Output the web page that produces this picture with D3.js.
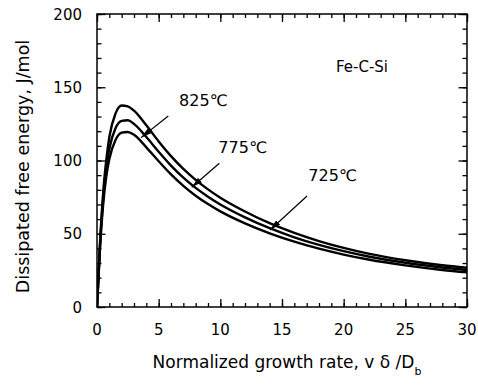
<!DOCTYPE html>
<html>
<head>
<meta charset="utf-8">
<script src="https://cdn.jsdelivr.net/npm/d3@7"></script>
<style>
  html, body { margin: 0; padding: 0; background: #fff; }
  svg { display: block; }
  text { font-family: "DejaVu Sans", sans-serif; fill: #000; }
</style>
</head>
<body>
<svg id="chart" width="478" height="387"></svg>
<script>
// Normalized growth rate (x) samples
const rates = [0, 0.25, 0.5, 0.75, 1, 1.5, 2, 2.5, 3, 4, 5, 6, 7, 8, 9, 10, 12, 14, 16, 18, 20, 22, 25, 28, 30];

// Dissipated free energy (J/mol) for each temperature
const energy825 = [0, 45, 78, 100, 116, 132, 137.5, 137, 134, 124, 113, 103, 94.3, 86.8, 80.3, 74.6, 65.2, 57.2, 50.6, 45, 40.3, 36.4, 31.9, 28.5, 26.8];
const energy775 = [0, 43, 74, 95, 108, 122, 127, 127.5, 125, 116, 106, 96.5, 88.3, 81.3, 75.3, 70, 61.2, 53.8, 47.6, 42.4, 38.1, 34.5, 30.2, 27, 25.3];
const energy725 = [0, 41, 70, 89, 101, 114, 119, 119.5, 117.5, 109, 99.5, 90.5, 82.7, 76, 70.3, 65.3, 57.1, 50.3, 44.6, 39.8, 35.8, 32.4, 28.4, 25.3, 23.7];

const seriesNames = ["825℃", "775℃", "725℃"];

// Label anchors and arrows (data units): [labelX, labelY, fromX, fromY, toX, toY]
const callouts = [
  [6.65, 137.4, 5.78, 130.4, 3.57, 115.6],
  [9.84, 104.9, 9.92, 98.1, 7.68, 81.7],
  [17.13, 86.2, 17.03, 75.8, 14.03, 52.6]
];

const xTicks = [0, 5, 10, 15, 20, 25, 30];
const yTicks = [0, 50, 100, 150, 200];
const xMinor = d3.range(0, 31, 1);
const yMinor = d3.range(0, 201, 10);
const systemLabel = "Fe-C-Si";

const margin = { left: 97, top: 14, right: 11, bottom: 80 };
const width = 478, height = 387;
const svg = d3.select("#chart");

const x = d3.scaleLinear().domain([0, 30]).range([margin.left, width - margin.right]);
const y = d3.scaleLinear().domain([0, 200]).range([height - margin.bottom, margin.top]);

// inward ticks (minor and major) on all four sides
function ticks(axisFn, scale, minor, major, sizeMinor, sizeMajor, transform) {
  [[minor, sizeMinor], [major, sizeMajor]].forEach(([vals, size]) => {
    const g = svg.append("g").attr("transform", transform)
      .call(axisFn(scale).tickValues(vals).tickSize(-size).tickFormat(""));
    g.select(".domain").remove();
    g.selectAll("line").attr("stroke", "#000").attr("stroke-width", 1.3);
  });
}

ticks(d3.axisBottom, x, xMinor, xTicks, 4, 8, `translate(0,${y(0)})`);
ticks(d3.axisTop, x, xMinor, xTicks, 4, 8, `translate(0,${y(200)})`);
ticks(d3.axisLeft, y, yMinor, yTicks, 4.5, 8.5, `translate(${x(0)},0)`);
ticks(d3.axisRight, y, yMinor, yTicks, 4.5, 8.5, `translate(${x(30)},0)`);

// frame
svg.append("rect")
  .attr("x", x(0)).attr("y", y(200))
  .attr("width", x(30) - x(0)).attr("height", y(0) - y(200))
  .attr("fill", "none").attr("stroke", "#000").attr("stroke-width", 1.5);

// tick labels
svg.append("g").selectAll("text").data(xTicks).join("text")
  .attr("x", d => x(d)).attr("y", y(0) + 28)
  .attr("text-anchor", "middle").attr("font-size", 15)
  .text(d => d);

svg.append("g").selectAll("text").data(yTicks).join("text")
  .attr("x", x(0) - 15).attr("y", d => y(d) + 5.5)
  .attr("text-anchor", "end").attr("font-size", 15)
  .text(d => d);

// axis titles
const xt = svg.append("text")
  .attr("x", 287).attr("y", 368)
  .attr("text-anchor", "middle").attr("font-size", 17);
xt.append("tspan").text("Normalized growth rate,  v δ /D");
xt.append("tspan").attr("font-size", 11).attr("dy", 7).text("b");

svg.append("text")
  .attr("transform", `translate(29,${(y(0) + y(200)) / 2 + 6}) rotate(-90)`)
  .attr("text-anchor", "middle").attr("font-size", 17.5)
  .text("Dissipated free energy,  J/mol");

// curves
const line = d3.line()
  .x((d, i) => x(rates[i]))
  .y(d => y(d))
  .curve(d3.curveMonotoneX);

svg.append("clipPath").attr("id", "plotClip")
  .append("rect").attr("x", x(0)).attr("y", y(200))
  .attr("width", x(30) - x(0)).attr("height", y(0) - y(200));

svg.append("g").attr("clip-path", "url(#plotClip)")
  .selectAll("path").data([energy825, energy775, energy725]).join("path")
  .attr("d", line)
  .attr("fill", "none").attr("stroke", "#000").attr("stroke-width", 2.4)
  .attr("stroke-linejoin", "round");

// arrowhead marker
svg.append("defs").append("marker")
  .attr("id", "arrowHead")
  .attr("viewBox", "0 0 11 6").attr("refX", 11).attr("refY", 3)
  .attr("markerWidth", 11).attr("markerHeight", 6)
  .attr("markerUnits", "userSpaceOnUse").attr("orient", "auto")
  .append("path").attr("d", "M0,0 L11,3 L0,6 Z").attr("fill", "#000");

const ann = svg.append("g");
ann.selectAll("line").data(callouts).join("line")
  .attr("x1", d => x(d[2])).attr("y1", d => y(d[3]))
  .attr("x2", d => x(d[4])).attr("y2", d => y(d[5]))
  .attr("stroke", "#000").attr("stroke-width", 1.2)
  .attr("marker-end", "url(#arrowHead)");

ann.selectAll("text").data(callouts).join("text")
  .attr("x", d => x(d[0])).attr("y", d => y(d[1]))
  .attr("font-size", 16)
  .text((d, i) => seriesNames[i]);

svg.append("text")
  .attr("x", x(19.38)).attr("y", y(160.6))
  .attr("font-size", 15)
  .text(systemLabel);
</script>
</body>
</html>
